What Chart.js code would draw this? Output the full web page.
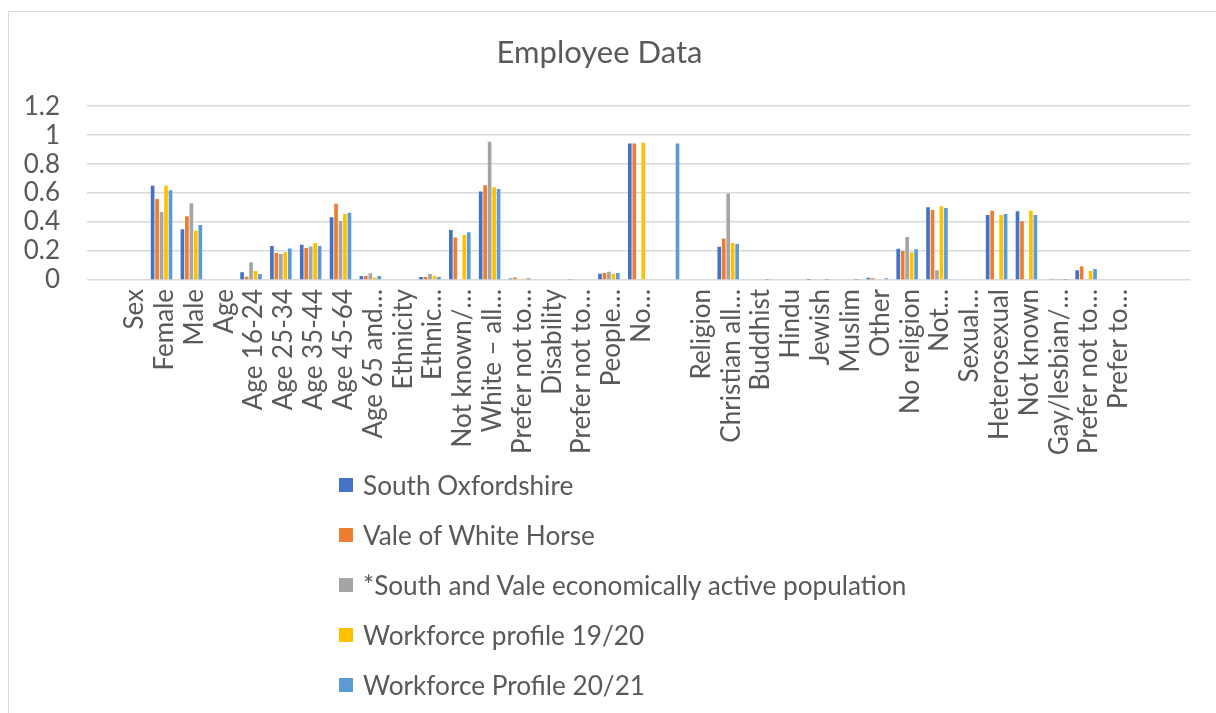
<!DOCTYPE html>
<html>
<head>
<meta charset="utf-8">
<title>Employee Data</title>
<script src="https://cdn.jsdelivr.net/npm/chart.js@4/dist/chart.umd.min.js"></script>
<style>
  html, body { margin: 0; padding: 0; background: #ffffff; }
  body { width: 1216px; height: 713px; position: relative; overflow: hidden; }
  #frame {
    position: absolute; left: 8px; top: 11px; width: 1300px; height: 800px;
    border: 1px solid #d9d9d9; box-sizing: border-box; pointer-events: none;
  }
  #wrap { position: absolute; left: 0; top: 0; width: 1216px; height: 713px; }
  #legend {
    position: absolute; left: 339px; top: 460px;
    font-family: Lato, "Open Sans", sans-serif; font-size: 26.2px; color: #595959;
  }
  #legend .item { height: 50px; display: flex; align-items: center; }
  #legend .swatch { width: 14px; height: 14px; margin-right: 10px; flex: none; }
</style>
</head>
<body>
<div id="frame"></div>
<div id="wrap"><canvas id="chart" width="1216" height="713"></canvas></div>
<div id="legend"></div>
<script>
// Category labels (empty strings are spacer slots)
const categories = [
  "", "Sex", "Female", "Male", "Age", "Age 16-24", "Age 25-34", "Age 35-44", "Age 45-64",
  "Age 65 and…", "Ethnicity", "Ethnic…", "Not known/…", "White – all…", "Prefer not to…",
  "Disability", "Prefer not to…", "People…", "No…", "", "Religion", "Christian all…",
  "Buddhist", "Hindu", "Jewish", "Muslim", "Other", "No religion", "Not…", "Sexual…",
  "Heterosexual", "Not known", "Gay/lesbian/…", "Prefer not to…", "Prefer to…", "", ""
];

const southOxfordshire = [
  null, null, 0.65, 0.35, null, 0.053, 0.234, 0.244, 0.434,
  0.028, null, 0.021, 0.345, 0.611, 0.010,
  null, 0.003, 0.044, 0.943, null, null, 0.230,
  0, 0, 0.002, 0, 0.016, 0.216, 0.503, null,
  0.448, 0.474, 0, 0.067, null, null, null
];

const valeOfWhiteHorse = [
  null, null, 0.56, 0.44, null, 0.023, 0.186, 0.221, 0.526,
  0.028, null, 0.021, 0.294, 0.655, 0.018,
  null, 0, 0.048, 0.943, null, null, 0.287,
  0, 0, 0, 0, 0.012, 0.200, 0.483, null,
  0.478, 0.405, 0.008, 0.094, null, null, null
];

const economicallyActive = [
  null, null, 0.47, 0.53, null, 0.122, 0.179, 0.232, 0.407,
  0.046, null, 0.041, 0, 0.954, 0,
  null, 0, 0.057, 0, null, null, 0.598,
  0, 0, 0, 0, 0, 0.297, 0.067, null,
  0, 0, 0.003, 0, null, null, null
];

const workforce1920 = [
  null, null, 0.65, 0.34, null, 0.062, 0.191, 0.255, 0.455,
  0.018, null, 0.028, 0.310, 0.641, 0.008,
  null, 0.006, 0.044, 0.947, null, null, 0.255,
  0, 0, 0, 0, 0, 0.191, 0.510, null,
  0.448, 0.478, 0.003, 0.062, null, null, null
];

const workforce2021 = [
  null, null, 0.62, 0.38, null, 0.041, 0.218, 0.234, 0.464,
  0.028, null, 0.021, 0.329, 0.628, 0.012,
  null, 0, 0.048, null, 0.943, null, 0.248,
  0.002, 0, 0.002, 0.002, 0.012, 0.212, 0.497, null,
  0.455, 0.448, 0.002, 0.076, null, null, null
];

const seriesNames = [
  "South Oxfordshire",
  "Vale of White Horse",
  "*South and Vale economically active population",
  "Workforce profile 19/20",
  "Workforce Profile 20/21"
];
const seriesColors = ["#4472C4", "#ED7D31", "#A5A5A5", "#FFC000", "#5B9BD5"];
const seriesValues = [southOxfordshire, valeOfWhiteHorse, economicallyActive, workforce1920, workforce2021];

const yTicks = [0, 0.2, 0.4, 0.6, 0.8, 1, 1.2];

const FONT = "Lato, 'Open Sans', sans-serif";
const TEXT = "#595959";

const datasets = seriesNames.map((name, i) => ({
  label: name,
  data: seriesValues[i],
  backgroundColor: seriesColors[i],
  borderWidth: 0,
  barPercentage: 0.82,
  categoryPercentage: 0.75
}));

new Chart(document.getElementById("chart"), {
  type: "bar",
  data: { labels: categories, datasets },
  options: {
    responsive: false,
    animation: false,
    events: [],
    layout: { padding: { left: 0, right: 17, top: 0, bottom: 0 } },
    plugins: {
      legend: { display: false },
      tooltip: { enabled: false },
      title: {
        display: true,
        text: "Employee Data",
        color: TEXT,
        font: { family: FONT, size: 31, weight: "normal", lineHeight: 1.2 },
        padding: { top: 34, bottom: 35 }
      }
    },
    scales: {
      x: {
        grid: { display: false, drawTicks: false },
        border: { display: false },
        ticks: {
          autoSkip: false,
          minRotation: 90,
          maxRotation: 90,
          padding: 9,
          labelOffset: 3,
          color: TEXT,
          font: { family: FONT, size: 26 }
        },
        afterFit(scale) { scale.height = 433; }
      },
      y: {
        min: 0,
        max: 1.2,
        afterBuildTicks(scale) { scale.ticks = yTicks.map(v => ({ value: v })); },
        grid: { color: "#d9d9d9", lineWidth: 1.5, drawTicks: false },
        border: { display: false },
        ticks: {
          autoSkip: false,
          padding: 27,
          color: TEXT,
          font: { family: FONT, size: 26 },
          callback: (value) => String(Number(value.toFixed(2)))
        },
        afterFit(scale) { scale.width = 87; }
      }
    }
  }
});

// Legend list below the plot
const legendEl = document.getElementById("legend");
seriesNames.forEach((name, i) => {
  const row = document.createElement("div");
  row.className = "item";
  const sw = document.createElement("span");
  sw.className = "swatch";
  sw.style.background = seriesColors[i];
  const label = document.createElement("span");
  label.textContent = name;
  row.appendChild(sw);
  row.appendChild(label);
  legendEl.appendChild(row);
});
</script>
</body>
</html>
